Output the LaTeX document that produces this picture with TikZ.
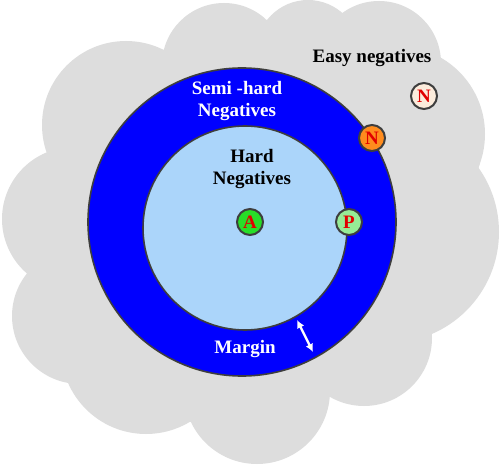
\documentclass[tikz,border=0pt]{standalone}
\usepackage{fontspec}
\setmainfont{Liberation Serif}
\usetikzlibrary{arrows.meta}
\definecolor{cloudgray}{RGB}{221,221,221}
\definecolor{ringblue}{RGB}{0,0,255}
\definecolor{hardblue}{RGB}{171,213,250}
\definecolor{rimgray}{RGB}{62,62,62}
\definecolor{anchorgreen}{RGB}{40,222,40}
\definecolor{posgreen}{RGB}{150,236,150}
\definecolor{semiorange}{RGB}{255,140,30}
\definecolor{easypeach}{RGB}{252,236,220}
\definecolor{labelred}{RGB}{225,0,0}

\begin{document}
\begin{tikzpicture}[x=1pt,y=-1pt,
  sample/.style={circle, draw=rimgray, line width=2pt, minimum size=26pt,
    inner sep=0pt, text=labelred, font=\fontsize{19}{19}\selectfont\bfseries},
  zone/.style={align=center, font=\fontsize{19}{22}\selectfont\bfseries}]
\useasboundingbox (0,0) rectangle (500,465);
% cloud: easy negatives
\fill[cloudgray] (163,50) -- (267,20) -- (343,13) -- (440,57) -- (480,163)
  -- (430,327) -- (330,397) -- (190,422) -- (67,380) -- (27,273) -- (47,153) -- cycle;
\foreach \cx/\cy/\r in {126/125/84, 224/65/62, 308/52/52, 379/63/62, 397/134/88,
    388/232/111, 364/338/68, 257/391/73, 146/349/85, 80/316/68, 74/219/72}
  \fill[cloudgray] (\cx,\cy) circle[radius=\r];
% semi-hard and hard regions
\filldraw[fill=ringblue, draw=rimgray, line width=1.6pt] (242,222) circle[radius=154];
\filldraw[fill=hardblue, draw=rimgray, line width=1.6pt] (245,228) circle[radius=102];

\node[zone] (easy) at (372,58) {Easy negatives};
\node[zone, text=white] (semi) at (237,101) {Semi -hard\\Negatives};
\node[zone] (hard) at (252,169) {Hard\\Negatives};
\node[zone, text=white, anchor=base] (margin) at (245,353) {Margin};

\node[sample, fill=anchorgreen] (anc) at (250,222) {A};
\node[sample, fill=posgreen] (pos) at (349,222) {P};
\node[sample, fill=semiorange] (semineg) at (372,138) {N};
\node[sample, fill=easypeach] (easyneg) at (424,96) {N};

% margin width
\coordinate (m1) at (297,320);
\coordinate (m2) at (313,352);
\draw[white, line width=2.4pt, {Latex[length=8pt,width=8pt]}-{Latex[length=8pt,width=8pt]}] (m1) -- (m2);
\end{tikzpicture}
\end{document}
